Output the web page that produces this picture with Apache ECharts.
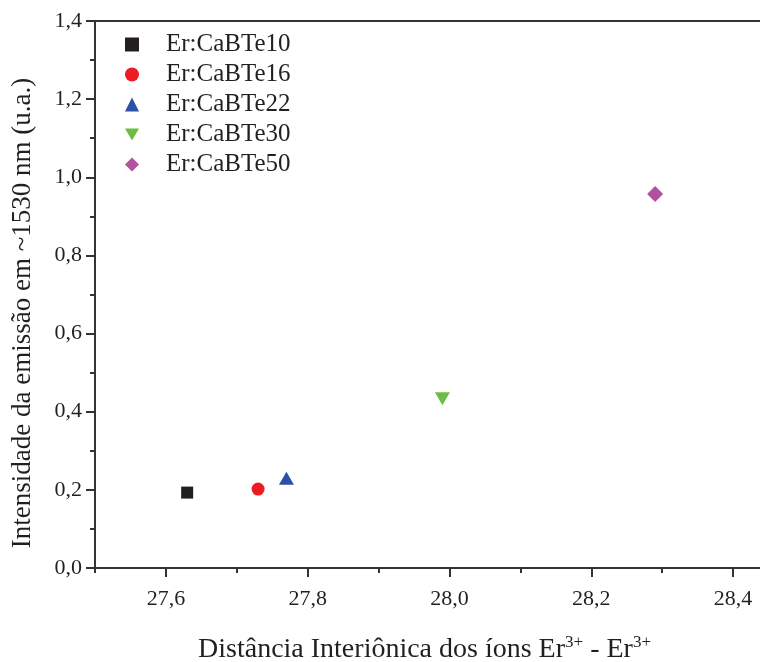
<!DOCTYPE html>
<html>
<head>
<meta charset="utf-8">
<script src="https://cdn.jsdelivr.net/npm/echarts@6/dist/echarts.min.js"></script>
<style>
  html, body { margin: 0; padding: 0; background: #fff; }
  #chart { width: 760px; height: 662px; }
</style>
</head>
<body>
<div id="chart"></div>
<script>
// amostras e valores
const sampleNames = ["Er:CaBTe10", "Er:CaBTe16", "Er:CaBTe22", "Er:CaBTe30", "Er:CaBTe50"];
const distances = [27.63, 27.73, 27.77, 27.99, 28.29];
const intensities = [0.193, 0.202, 0.23, 0.433, 0.957];
const xMajorTicks = [27.6, 27.8, 28.0, 28.2, 28.4];
const xMinorTicks = [27.5, 27.7, 27.9, 28.1, 28.3];

// triângulo invertido como path (assim a legenda também fica invertida)
const downTriangle = "path://M0,0 L20,0 L10,17 Z";
const symbols = ["rect", "circle", "triangle", downTriangle, "diamond"];
const sizes = [12, 13, [15, 13], [15, 13], 16];
const colors = ["#231f20", "#ed1c24", "#2e4fa6", "#6cbd45", "#b4519f"];

const font = "Liberation Serif";
const ink = "#231f20";
const fmt = v => Number(v).toFixed(1).replace(".", ",");

let chart = echarts.init(document.getElementById("chart"));

let series = [];
sampleNames.forEach((name, i) => {
  series.push({
    name: name,
    type: "scatter",
    symbol: symbols[i],
    symbolSize: sizes[i],
    itemStyle: { color: colors[i], opacity: 1 },
    data: [[distances[i], intensities[i]]]
  });
});

let option = {
  animation: false,
  backgroundColor: "#fff",
  textStyle: { fontFamily: font },
  grid: {
    left: 95,
    top: 21,
    width: 709, // o quadro continua para além da borda direita
    bottom: 94,
    outerBoundsMode: "none",
    show: true,
    borderColor: "#333",
    borderWidth: 2
  },
  legend: {
    orient: "vertical",
    left: 120,
    top: 27,
    itemWidth: 14,
    itemHeight: 14,
    itemGap: 5,
    textStyle: { fontFamily: font, fontSize: 25, color: ink, padding: [0, 0, 0, 22] },
    data: sampleNames
  },
  xAxis: [
    {
      type: "value",
      position: "bottom",
      min: 27.5,
      max: 28.5,
      splitLine: { show: false },
      axisLine: { onZero: false, lineStyle: { color: "#333", width: 2 } },
      axisTick: { customValues: xMajorTicks, length: 9, lineStyle: { color: "#333", width: 2 } },
      axisLabel: {
        customValues: xMajorTicks,
        formatter: fmt,
        fontFamily: font,
        fontSize: 22,
        color: ink,
        margin: 20
      },
      name: "{n|Distância Interiônica dos íons Er}{s|3+}{n| - Er}{s|3+}",
      nameLocation: "middle",
      nameGap: 66,
      nameTextStyle: {
        padding: [0, 50, 0, 0],
        rich: {
          n: { fontFamily: font, fontSize: 28, color: ink, lineHeight: 32 },
          s: { fontFamily: font, fontSize: 17, color: ink, lineHeight: 17, verticalAlign: "top" }
        }
      }
    },
    {
      type: "value",
      position: "bottom",
      min: 27.5,
      max: 28.5,
      splitLine: { show: false },
      axisLine: { show: false, onZero: false },
      axisTick: { customValues: xMinorTicks, length: 5, lineStyle: { color: "#333", width: 2 } },
      axisLabel: { show: false }
    }
  ],
  yAxis: {
    type: "value",
    min: 0,
    max: 1.4,
    interval: 0.2,
    splitLine: { show: false },
    axisLine: { show: true, onZero: false, lineStyle: { color: "#333", width: 2 } },
    axisTick: { show: true, length: 9, lineStyle: { color: "#333", width: 2 } },
    minorTick: { show: true, splitNumber: 2, length: 5, lineStyle: { color: "#333", width: 2 } },
    axisLabel: { formatter: fmt, fontFamily: font, fontSize: 22, color: ink, margin: 13 },
    name: "Intensidade da emissão em ~1530 nm (u.a.)",
    nameLocation: "middle",
    nameRotate: 90,
    nameGap: 59,
    nameTextStyle: { fontFamily: font, fontSize: 27, color: ink, padding: [0, 37, 0, 0] }
  },
  series: series
};

chart.setOption(option);
</script>
</body>
</html>
